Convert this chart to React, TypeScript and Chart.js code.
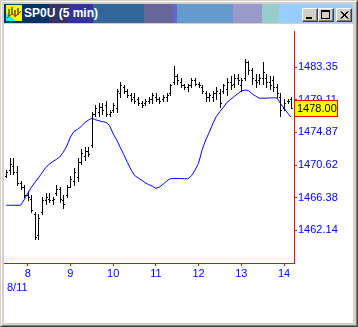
import React, { useEffect, useRef } from 'react';
import { Chart, registerables } from 'chart.js';

Chart.register(...registerables);

const windowTitle = 'SP0U (5 min)';
const dateLabel = '8/11';

const barTimes = [
  '07:30', '07:35', '07:40', '07:45', '07:50', '07:55',
  '08:00', '08:05', '08:10', '08:15', '08:20', '08:25', '08:30', '08:35', '08:40', '08:45', '08:50', '08:55',
  '09:00', '09:05', '09:10', '09:15', '09:20', '09:25', '09:30', '09:35', '09:40', '09:45', '09:50', '09:55',
  '10:00', '10:05', '10:10', '10:15', '10:20', '10:25', '10:30', '10:35', '10:40', '10:45', '10:50', '10:55',
  '11:00', '11:05', '11:10', '11:15', '11:20', '11:25', '11:30', '11:35', '11:40', '11:45', '11:50', '11:55',
  '12:00', '12:05', '12:10', '12:15', '12:20', '12:25', '12:30', '12:35', '12:40', '12:45', '12:50', '12:55',
  '13:00', '13:05', '13:10', '13:15', '13:20', '13:25', '13:30', '13:35', '13:40', '13:45', '13:50', '13:55',
  '14:00', '14:05', '14:10',
];

const openPrices = [
  1469.25, 1470.0, 1470.5, 1469.75, 1468.25, 1467.75, 1466.75, 1466.25, 1464.25, 1461.5,
  1464.5, 1466.0, 1466.25, 1466.0, 1467.0, 1467.5, 1466.0, 1466.75, 1467.75, 1468.5,
  1469.0, 1471.0, 1471.75, 1472.5, 1473.25, 1477.25, 1477.5, 1478.25, 1478.5, 1477.25,
  1477.75, 1478.0, 1480.0, 1480.75, 1480.25, 1479.75, 1479.5, 1479.25, 1478.75, 1478.75,
  1479.0, 1479.25, 1479.5, 1479.25, 1479.25, 1479.5, 1480.0, 1481.5, 1482.25, 1481.5,
  1481.0, 1480.75, 1481.0, 1481.75, 1481.25, 1480.75, 1480.0, 1479.5, 1479.5, 1480.0,
  1480.0, 1480.25, 1480.5, 1481.5, 1481.25, 1482.0, 1481.0, 1482.0, 1484.0, 1483.0,
  1481.75, 1481.75, 1482.0, 1482.0, 1481.5, 1481.75, 1480.75, 1479.5, 1478.0, 1479.0,
  1479.25,
];

const highPrices = [
  1470.0, 1471.5, 1471.5, 1470.5, 1468.5, 1468.0, 1467.25, 1466.75, 1464.5, 1464.25,
  1466.5, 1467.0, 1467.0, 1466.5, 1468.0, 1467.75, 1466.75, 1468.0, 1469.25, 1470.25,
  1471.5, 1472.75, 1473.0, 1473.0, 1477.5, 1478.5, 1478.75, 1478.75, 1479.0, 1477.75,
  1478.75, 1480.5, 1481.5, 1481.0, 1480.5, 1480.0, 1480.0, 1479.5, 1479.0, 1479.25,
  1479.5, 1480.0, 1480.0, 1479.5, 1479.75, 1480.0, 1481.25, 1483.5, 1482.5, 1482.0,
  1481.25, 1481.25, 1482.0, 1482.0, 1481.5, 1481.0, 1480.25, 1480.0, 1480.25, 1480.75,
  1480.5, 1481.25, 1482.0, 1482.25, 1482.5, 1482.5, 1482.0, 1484.5, 1484.25, 1483.25,
  1482.5, 1482.5, 1484.0, 1482.5, 1482.25, 1482.25, 1481.25, 1480.0, 1479.25, 1479.25,
  1479.5,
];

const lowPrices = [
  1469.0, 1469.5, 1469.5, 1468.0, 1467.5, 1466.5, 1466.0, 1464.5, 1461.0, 1461.0,
  1464.25, 1465.5, 1465.75, 1465.5, 1466.75, 1465.75, 1465.0, 1466.5, 1467.75, 1468.0,
  1468.5, 1470.75, 1471.25, 1471.75, 1473.0, 1477.0, 1477.0, 1477.25, 1477.0, 1477.0,
  1477.5, 1477.5, 1479.5, 1480.0, 1479.5, 1479.0, 1478.75, 1478.5, 1478.25, 1478.5,
  1478.75, 1478.75, 1479.0, 1478.75, 1479.0, 1479.0, 1479.75, 1481.25, 1481.25, 1480.75,
  1480.5, 1480.25, 1480.75, 1481.0, 1480.75, 1480.0, 1479.0, 1479.0, 1479.0, 1479.25,
  1478.25, 1480.0, 1479.75, 1480.5, 1480.75, 1481.25, 1480.25, 1481.75, 1482.5, 1481.25,
  1480.75, 1481.25, 1481.25, 1480.75, 1480.5, 1480.25, 1479.5, 1477.0, 1477.75, 1478.75,
  1478.0,
];

const closePrices = [
  1469.75, 1470.75, 1469.75, 1468.25, 1467.75, 1466.75, 1466.5, 1464.75, 1461.25, 1463.75,
  1466.0, 1466.5, 1466.0, 1466.25, 1467.5, 1466.25, 1465.5, 1467.75, 1468.75, 1469.75,
  1471.0, 1472.25, 1472.5, 1472.0, 1477.25, 1478.0, 1478.25, 1477.75, 1477.25, 1477.5,
  1478.5, 1480.25, 1481.0, 1480.25, 1479.75, 1479.25, 1479.0, 1478.75, 1478.5, 1479.0,
  1479.25, 1479.75, 1479.25, 1479.0, 1479.5, 1479.75, 1481.0, 1482.25, 1481.75, 1481.0,
  1480.75, 1481.0, 1481.75, 1481.25, 1481.0, 1480.25, 1479.5, 1479.75, 1480.0, 1480.25,
  1478.75, 1481.0, 1481.5, 1481.0, 1482.0, 1481.75, 1481.75, 1484.0, 1483.0, 1482.0,
  1481.5, 1482.0, 1482.75, 1481.5, 1481.0, 1480.75, 1480.0, 1477.75, 1478.75, 1479.0,
  1478.0,
];

const movingAverage = [
  1465.38, 1465.38, 1465.38, 1465.38, 1465.38, 1466.09, 1466.94, 1467.69, 1468.35, 1468.96,
  1469.59, 1470.28, 1470.72, 1471.06, 1471.35, 1471.67, 1472.30, 1473.12, 1474.26, 1475.01,
  1475.27, 1475.64, 1476.15, 1476.46, 1476.72, 1476.53, 1476.40, 1476.28, 1476.19, 1475.77,
  1474.70, 1473.88, 1472.93, 1471.98, 1470.97, 1470.03, 1469.27, 1468.96, 1468.64, 1468.32,
  1468.07, 1467.88, 1467.57, 1467.76, 1468.11, 1468.51, 1468.83, 1468.87, 1468.87, 1468.87,
  1468.83, 1468.83, 1469.21, 1469.96, 1470.85, 1472.61, 1473.88, 1474.89, 1476.02, 1476.97,
  1477.60, 1478.17, 1478.80, 1479.18, 1479.56, 1479.93, 1480.25, 1480.40, 1480.34, 1479.93,
  1479.62, 1479.34, 1479.34, 1479.34, 1479.37, 1479.38, 1479.38, 1478.67, 1478.04, 1477.41,
  1476.87,
];

const priceTicks = [1462.14, 1466.38, 1470.62, 1474.87, 1479.11, 1483.35];
const hourTicks = [8, 9, 10, 11, 12, 13, 14];
const priceMin = 1457.85;
const priceMax = 1488.02;
const hourMin = 7.445;
const hourMax = 14.234;

const FONT = 'Liberation Sans, Arial, sans-serif';

function toHours(s: string): number {
  const [h, m] = s.split(':').map(Number);
  return h + m / 60;
}

const ohlcPlugin = {
  id: 'ohlcBars',
  beforeDatasetsDraw(chart: any) {
    const { ctx, chartArea, scales } = chart;
    const xs = scales.x;
    const ys = scales.y;
    ctx.save();
    ctx.beginPath();
    ctx.rect(chartArea.left, chartArea.top, chartArea.right - chartArea.left, chartArea.bottom - chartArea.top);
    ctx.clip();
    ctx.strokeStyle = '#000000';
    ctx.lineWidth = 1;
    ctx.beginPath();
    for (let i = 0; i < barTimes.length; i++) {
      const px = Math.round(xs.getPixelForValue(toHours(barTimes[i])));
      const ph = Math.round(ys.getPixelForValue(highPrices[i]));
      const pl = Math.round(ys.getPixelForValue(lowPrices[i]));
      const po = Math.round(ys.getPixelForValue(openPrices[i]));
      const pc = Math.round(ys.getPixelForValue(closePrices[i]));
      ctx.moveTo(px + 0.5, ph);
      ctx.lineTo(px + 0.5, pl + 1);
      ctx.moveTo(px - 1, po + 0.5);
      ctx.lineTo(px, po + 0.5);
      ctx.moveTo(px + 1, pc + 0.5);
      ctx.lineTo(px + 2, pc + 0.5);
    }
    ctx.stroke();
    ctx.restore();
  },
};

const overlayPlugin = {
  id: 'overlay',
  afterDraw(chart: any) {
    const { ctx, chartArea, scales } = chart;
    const last = closePrices[closePrices.length - 1];
    const py = Math.round(scales.y.getPixelForValue(last));
    const left = Math.round(chartArea.right);
    ctx.save();
    ctx.fillStyle = '#ffff00';
    ctx.fillRect(left, py - 8, 44, 17);
    ctx.strokeStyle = '#ff0000';
    ctx.lineWidth = 1;
    ctx.strokeRect(left + 0.5, py - 7.5, 43, 16);
    ctx.fillStyle = '#000000';
    ctx.font = `11px ${FONT}`;
    ctx.textBaseline = 'middle';
    ctx.textAlign = 'left';
    ctx.fillText(last.toFixed(2), left + 3, py + 1);
    ctx.fillStyle = '#0000ff';
    ctx.fillText(dateLabel, chartArea.left + 3, chartArea.bottom + 25);
    ctx.restore();
  },
};

function ChartCanvas() {
  const ref = useRef<HTMLCanvasElement | null>(null);
  useEffect(() => {
    if (!ref.current) return;
    const xsVals = barTimes.map(toHours);
    const chart = new Chart(ref.current, {
      type: 'line',
      data: {
        datasets: [
          {
            label: 'MA',
            data: xsVals.map((x, i) => ({ x, y: movingAverage[i] })),
            borderColor: '#0000ff',
            borderWidth: 1,
            pointRadius: 0,
            tension: 0,
            fill: false,
          },
        ],
      },
      options: {
        animation: false,
        responsive: false,
        maintainAspectRatio: false,
        events: [],
        layout: { padding: 0 },
        plugins: { legend: { display: false }, tooltip: { enabled: false } },
        scales: {
          x: {
            type: 'linear',
            position: 'bottom',
            min: hourMin,
            max: hourMax,
            afterBuildTicks: (s: any) => {
              s.ticks = hourTicks.map((v) => ({ value: v }));
            },
            afterFit: (s: any) => {
              s.height = 60;
            },
            grid: { drawOnChartArea: false, color: '#ff0000', tickLength: 3, lineWidth: 1 },
            border: { color: '#ff0000', width: 1 },
            ticks: {
              color: '#0000ff',
              autoSkip: false,
              maxRotation: 0,
              padding: 1,
              font: { family: FONT, size: 11 },
              callback: (v: any) => String(v),
            },
          },
          y: {
            type: 'linear',
            position: 'right',
            min: priceMin,
            max: priceMax,
            afterBuildTicks: (s: any) => {
              s.ticks = priceTicks.map((v) => ({ value: v }));
            },
            afterFit: (s: any) => {
              s.width = 59;
            },
            grid: { drawOnChartArea: false, color: '#ff0000', tickLength: 3, lineWidth: 1 },
            border: { color: '#ff0000', width: 1 },
            ticks: {
              color: '#0000ff',
              autoSkip: false,
              padding: 1,
              font: { family: FONT, size: 11 },
              callback: (v: any) => Number(v).toFixed(2),
            },
          },
        },
      },
      plugins: [ohlcPlugin, overlayPlugin],
    } as any);
    return () => chart.destroy();
  }, []);
  return <canvas ref={ref} width={349} height={299} style={{ display: 'block', width: 349, height: 299 }} />;
}

const titleGradient =
  'linear-gradient(to right, #003366 0px 45px, #333366 45px 64px, #333399 64px 89px, #336699 89px 140px, #666699 140px 169px, #6666cc 169px 173px, #6699cc 173px 229px, #9999cc 229px 258px, #99cccc 258px 275px, #99ccff 275px)';

const btnStyle: React.CSSProperties = {
  position: 'absolute',
  top: 4,
  width: 16,
  height: 14,
  boxSizing: 'border-box',
  background: '#d4d0c8',
  borderTop: '1px solid #ffffff',
  borderLeft: '1px solid #ffffff',
  borderRight: '1px solid #404040',
  borderBottom: '1px solid #404040',
  boxShadow: 'inset -1px -1px 0 #808080',
};

export default function App() {
  return (
    <div
      style={{
        position: 'fixed',
        left: 0,
        top: 0,
        width: 358,
        height: 327,
        background: '#d4d0c8',
        overflow: 'hidden',
        boxSizing: 'border-box',
        borderTop: '1px solid #d4d0c8',
        borderLeft: '1px solid #d4d0c8',
        borderRight: '1px solid #404040',
        borderBottom: '1px solid #404040',
      }}
    >
      <div
        style={{
          position: 'absolute',
          left: 0,
          top: 0,
          right: 0,
          bottom: 0,
          borderTop: '1px solid #ffffff',
          borderLeft: '1px solid #ffffff',
          borderRight: '1px solid #808080',
          borderBottom: '1px solid #808080',
        }}
      />
      <div
        style={{
          position: 'absolute',
          left: 3,
          top: 3,
          width: 349,
          height: 19,
          background: titleGradient,
        }}
      >
        <svg width={16} height={16} style={{ position: 'absolute', left: 2, top: 1 }}>
          <rect x={0} y={0} width={16} height={16} fill="#ffff00" />
          <polygon points="0,8 0,16 10,16" fill="#00ffff" />
          <path d="M3 4 V11 M6 2 V9 M9 5 V12 M12 3 V10" stroke="#000" strokeWidth={1} />
          <path d="M1 13 L6 9 L10 11 L15 6" stroke="#ff0000" strokeWidth={1} fill="none" />
        </svg>
        <div
          style={{
            position: 'absolute',
            left: 20,
            top: 2,
            color: '#ffffff',
            font: `bold 12px ${FONT}`,
            lineHeight: '15px',
            whiteSpace: 'nowrap',
          }}
        >
          {windowTitle}
        </div>
        <div style={{ ...btnStyle, left: 298 }}>
          <div style={{ position: 'absolute', left: 3, top: 8, width: 6, height: 2, background: '#000' }} />
        </div>
        <div style={{ ...btnStyle, left: 314 }}>
          <div
            style={{
              position: 'absolute',
              left: 2,
              top: 1,
              width: 9,
              height: 9,
              boxSizing: 'border-box',
              border: '1px solid #000',
              borderTop: '2px solid #000',
            }}
          />
        </div>
        <div style={{ ...btnStyle, left: 332 }}>
          <svg width={14} height={12} style={{ position: 'absolute', left: 0, top: 0 }}>
            <path d="M3.5 2.5 L10.5 9.5 M4.5 2.5 L11.5 9.5 M10.5 2.5 L3.5 9.5 M11.5 2.5 L4.5 9.5" stroke="#000" strokeWidth={1} />
          </svg>
        </div>
      </div>
      <div
        style={{
          position: 'absolute',
          left: 3,
          top: 23,
          width: 349,
          height: 299,
          background: '#ffffff',
        }}
      >
        <ChartCanvas />
      </div>
    </div>
  );
}
